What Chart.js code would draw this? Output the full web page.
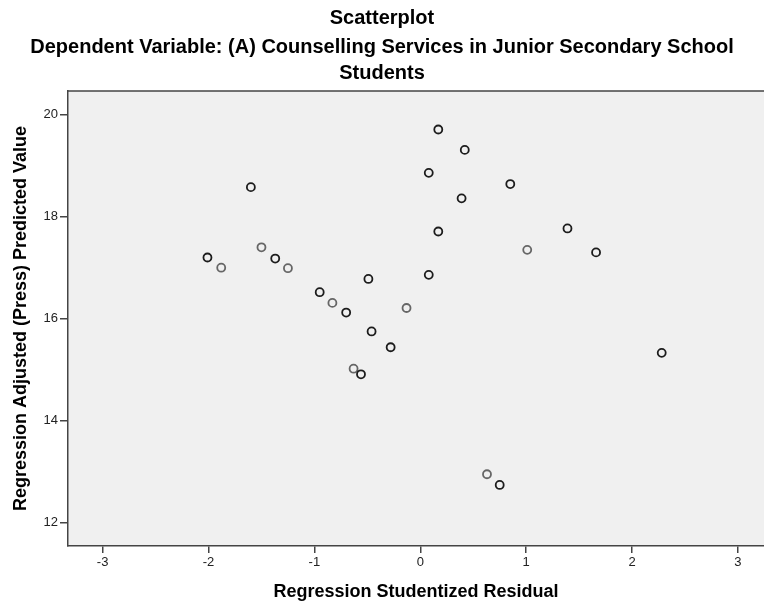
<!DOCTYPE html>
<html>
<head>
<meta charset="utf-8">
<script src="https://cdn.jsdelivr.net/npm/chart.js@4/dist/chart.umd.min.js"></script>
<style>
  html, body { margin: 0; padding: 0; background: #fff; }
  #wrap { width: 764px; height: 603px; }
</style>
</head>
<body>
<div id="wrap"><canvas id="grafico"></canvas></div>
<script>
// values
const residual = [0.17, 0.08, -1.60, 0.17, -1.50, -2.01, -1.37, -1.88, -1.25, -0.49,
                  0.08, -0.95, -0.83, -0.70, -0.13, -0.46, -0.28, -0.63, -0.56, 0.42,
                  0.85, 0.39, 1.39, 1.01, 1.66, 2.28, 0.63, 0.75];
const predicted = [19.71, 18.86, 18.58, 17.71, 17.40, 17.20, 17.18, 17.00, 16.99, 16.78,
                   16.86, 16.52, 16.31, 16.12, 16.21, 15.75, 15.44, 15.02, 14.91, 19.31,
                   18.64, 18.36, 17.77, 17.35, 17.30, 15.33, 12.95, 12.74];
const xTicks = [-3, -2, -1, 0, 1, 2, 3];
const yTicks = [12, 14, 16, 18, 20];

// grey rings are single cases, dark ones overlap
const lightPoints = [4, 7, 8, 12, 14, 17, 23, 26];
const colores = residual.map((v, i) => lightPoints.includes(i) ? '#666666' : '#1c1c1c');

const fuente = "'Liberation Sans', Arial, sans-serif";

const fondo = {
  id: 'fondo',
  beforeDraw(chart) {
    const { ctx, chartArea: a } = chart;
    ctx.save();
    ctx.fillStyle = '#f0f0f0';
    ctx.fillRect(a.left, a.top, a.right - a.left, a.bottom - a.top);
    ctx.strokeStyle = '#444';
    ctx.lineWidth = 1.5;
    ctx.beginPath();
    ctx.moveTo(a.left, a.top);
    ctx.lineTo(a.right, a.top);
    ctx.stroke();
    ctx.restore();
  }
};

new Chart(document.getElementById('grafico'), {
  type: 'scatter',
  data: {
    datasets: [{
      data: residual.map((x, i) => ({ x: x, y: predicted[i] })),
      borderColor: colores,
      backgroundColor: 'rgba(0,0,0,0)',
      borderWidth: 1.8,
      pointRadius: 4,
      pointHoverRadius: 4
    }]
  },
  options: {
    responsive: true,
    maintainAspectRatio: false,
    animation: false,
    layout: { padding: 0, autoPadding: false },
    plugins: {
      legend: { display: false },
      tooltip: { enabled: false },
      title: {
        display: true,
        text: 'Scatterplot',
        color: '#000',
        font: { family: fuente, size: 20, weight: 'bold', lineHeight: 1.2 },
        padding: { top: 6, bottom: 4 }
      },
      subtitle: {
        display: true,
        text: ['Dependent Variable: (A) Counselling Services in Junior Secondary School', 'Students'],
        color: '#000',
        font: { family: fuente, size: 20, weight: 'bold', lineHeight: 1.3 },
        padding: { top: 0, bottom: 5 }
      }
    },
    scales: {
      x: {
        type: 'linear',
        min: -3.327,
        max: 3.246,
        afterBuildTicks: s => { s.ticks = xTicks.map(v => ({ value: v })); },
        afterFit: s => { s.height = 57; s.paddingLeft = 0; s.paddingRight = 0; },
        grid: { drawOnChartArea: false, drawTicks: true, tickLength: 7, color: '#444', lineWidth: 1.5 },
        border: { color: '#444', width: 1.5 },
        ticks: { color: '#222', padding: 2, font: { family: fuente, size: 13 } },
        title: {
          display: true,
          text: 'Regression Studentized Residual',
          color: '#000',
          font: { family: fuente, size: 18, weight: 'bold', lineHeight: 1.2 },
          padding: { top: 0, bottom: 0 }
        }
      },
      y: {
        type: 'linear',
        min: 11.543,
        max: 20.465,
        afterBuildTicks: s => { s.ticks = yTicks.map(v => ({ value: v })); },
        afterFit: s => { s.width = 68; s.paddingTop = 0; s.paddingBottom = 0; },
        grid: { drawOnChartArea: false, drawTicks: true, tickLength: 8, color: '#444', lineWidth: 1.5 },
        border: { color: '#444', width: 1.5 },
        ticks: { color: '#222', padding: 2, font: { family: fuente, size: 13 } },
        title: {
          display: true,
          text: 'Regression Adjusted (Press) Predicted Value',
          color: '#000',
          font: { family: fuente, size: 18, weight: 'bold', lineHeight: 1.2 },
          padding: { top: 10, bottom: 0 }
        }
      }
    }
  },
  plugins: [fondo]
});
</script>
</body>
</html>
